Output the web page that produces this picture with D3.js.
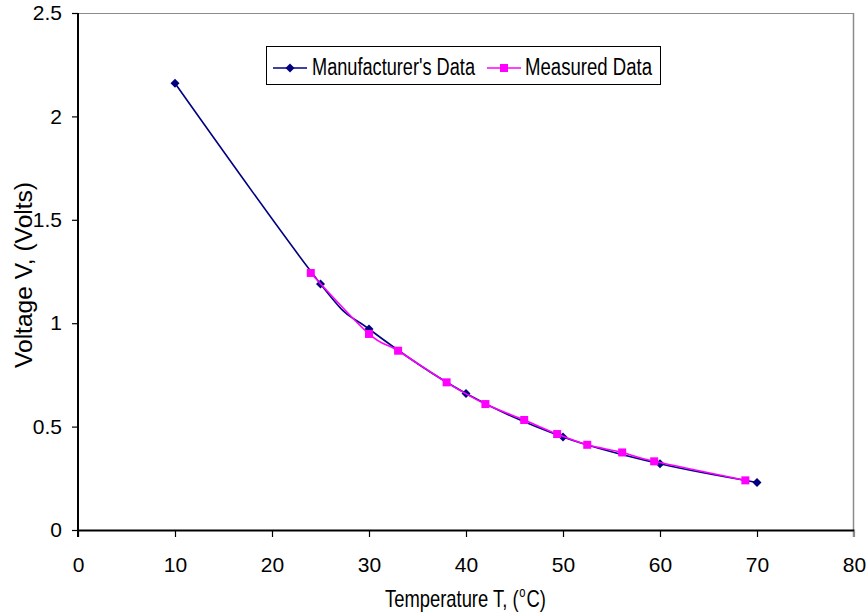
<!DOCTYPE html>
<html>
<head>
<meta charset="utf-8">
<script src="https://cdn.jsdelivr.net/npm/d3@7/dist/d3.min.js"></script>
<style>
  html, body { margin: 0; padding: 0; background: #fff; }
  svg { display: block; }
  text { font-family: "Liberation Sans", Arial, sans-serif; fill: #000; }
</style>
</head>
<body>
<svg id="chart" width="866" height="613"></svg>
<script>
// Manufacturer's curve (temperature in °C, voltage in V)
const manufTemp = [10, 25, 30, 40, 50, 60, 70];
const manufVolt = [2.16, 1.19, 0.972, 0.66, 0.45, 0.32, 0.23];

// Measured points
const measTemp = [24, 30, 33, 38, 42, 46, 49.4, 52.5, 56.1, 59.4, 68.8];
const measVolt = [1.243, 0.948, 0.867, 0.714, 0.609, 0.532, 0.464, 0.412, 0.375, 0.332, 0.24];

const xTicks = [0, 10, 20, 30, 40, 50, 60, 70, 80];
const yTicks = [0, 0.5, 1, 1.5, 2, 2.5];
const yTickLabels = ["0", "0.5", "1", "1.5", "2", "2.5"];

const seriesNames = ["Manufacturer's Data", "Measured Data"];
const seriesColors = ["#000080", "#ff00ff"];

const svg = d3.select("#chart");

const x = d3.scaleLinear().domain([0, 80]).range([78, 854]);
const y = d3.scaleLinear().domain([0, 2.5]).range([530, 13]);

// Plot frame: grey top and right edges
svg.append("line").attr("x1", x(0)).attr("x2", x(80)).attr("y1", y(2.5) + 0.5).attr("y2", y(2.5) + 0.5)
  .attr("stroke", "#8c8c8c").attr("stroke-width", 1);
svg.append("line").attr("x1", x(80) - 0.5).attr("x2", x(80) - 0.5).attr("y1", y(2.5)).attr("y2", y(0) + 7)
  .attr("stroke", "#8c8c8c").attr("stroke-width", 1.5);

// Axes
const xAxis = svg.append("g").attr("transform", `translate(0,${y(0)})`)
  .call(d3.axisBottom(x).tickValues(xTicks).tickFormat(d3.format("d")).tickSize(7).tickSizeOuter(0).tickPadding(20));
const yAxis = svg.append("g").attr("transform", `translate(${x(0)},0)`)
  .call(d3.axisLeft(y).tickValues(yTicks).tickFormat((d, i) => yTickLabels[i]).tickSize(6).tickSizeOuter(0).tickPadding(10));

[xAxis, yAxis].forEach(g => {
  g.select(".domain").attr("stroke", "#000").attr("stroke-width", 2);
  g.selectAll(".tick line").attr("stroke", "#000").attr("stroke-width", 1.2);
  g.selectAll(".tick text").attr("font-size", 21).attr("font-family", "'Liberation Sans', Arial, sans-serif").attr("fill", "#000");
});
xAxis.selectAll(".tick").filter(d => d === 80).select("line").attr("stroke", "#8c8c8c");
yAxis.select(".domain").attr("d", `M0,${y(2.5)}V${y(0) + 7}`);

// Series lines (smoothed)
const line = d3.line().x(d => x(d[0])).y(d => y(d[1])).curve(d3.curveCatmullRom.alpha(0));
const manuf = manufTemp.map((t, i) => [t, manufVolt[i]]);
const meas = measTemp.map((t, i) => [t, measVolt[i]]);

svg.append("path").datum(manuf).attr("d", line)
  .attr("fill", "none").attr("stroke", seriesColors[0]).attr("stroke-width", 1.6);
svg.append("g").selectAll("path").data(manuf).join("path")
  .attr("d", d3.symbol(d3.symbolDiamond2, 52))
  .attr("transform", d => `translate(${x(d[0])},${y(d[1])})`)
  .attr("fill", seriesColors[0]);

svg.append("path").datum(meas).attr("d", line)
  .attr("fill", "none").attr("stroke", seriesColors[1]).attr("stroke-width", 1.6);
svg.append("g").selectAll("rect").data(meas).join("rect")
  .attr("x", d => x(d[0]) - 4).attr("y", d => y(d[1]) - 4)
  .attr("width", 8).attr("height", 8)
  .attr("fill", seriesColors[1]);

// Legend
const legend = svg.append("g");
legend.append("rect").attr("x", 266.5).attr("y", 46.5).attr("width", 394).attr("height", 38)
  .attr("fill", "#fff").attr("stroke", "#000").attr("stroke-width", 1);
const legendItems = [
  { x0: 273, tx: 312, w: 163 },
  { x0: 487, tx: 525, w: 127 }
];
legendItems.forEach((it, i) => {
  legend.append("line").attr("x1", it.x0).attr("x2", it.x0 + 34).attr("y1", 68).attr("y2", 68)
    .attr("stroke", seriesColors[i]).attr("stroke-width", 1.6);
  if (i === 0) {
    legend.append("path").attr("d", d3.symbol(d3.symbolDiamond2, 52))
      .attr("transform", `translate(${it.x0 + 17},68)`).attr("fill", seriesColors[i]);
  } else {
    legend.append("rect").attr("x", it.x0 + 13).attr("y", 64).attr("width", 8).attr("height", 8)
      .attr("fill", seriesColors[i]);
  }
  legend.append("text").attr("x", it.tx).attr("y", 75)
    .attr("font-size", 23).attr("textLength", it.w).attr("lengthAdjust", "spacingAndGlyphs")
    .text(seriesNames[i]);
});

// Axis titles: the x title is squeezed horizontally, with a raised "o" before C
const xTitle = svg.append("g").attr("transform", "translate(385,607) scale(0.8,1)");
const xTitleMain = xTitle.append("text").attr("x", 0).attr("y", 0).attr("font-size", 23)
  .text("Temperature T, (");
const mainW = xTitleMain.node().getComputedTextLength();
xTitle.append("text").attr("x", mainW + 1).attr("y", -10).attr("font-size", 14).text("o");
xTitle.append("text").attr("x", mainW + 10).attr("y", 0).attr("font-size", 23).text("C)");

svg.append("text")
  .attr("transform", "translate(32,275) rotate(-90)")
  .attr("text-anchor", "middle")
  .attr("font-size", 23).attr("textLength", 186).attr("lengthAdjust", "spacingAndGlyphs")
  .text("Voltage V, (Volts)");
</script>
</body>
</html>
